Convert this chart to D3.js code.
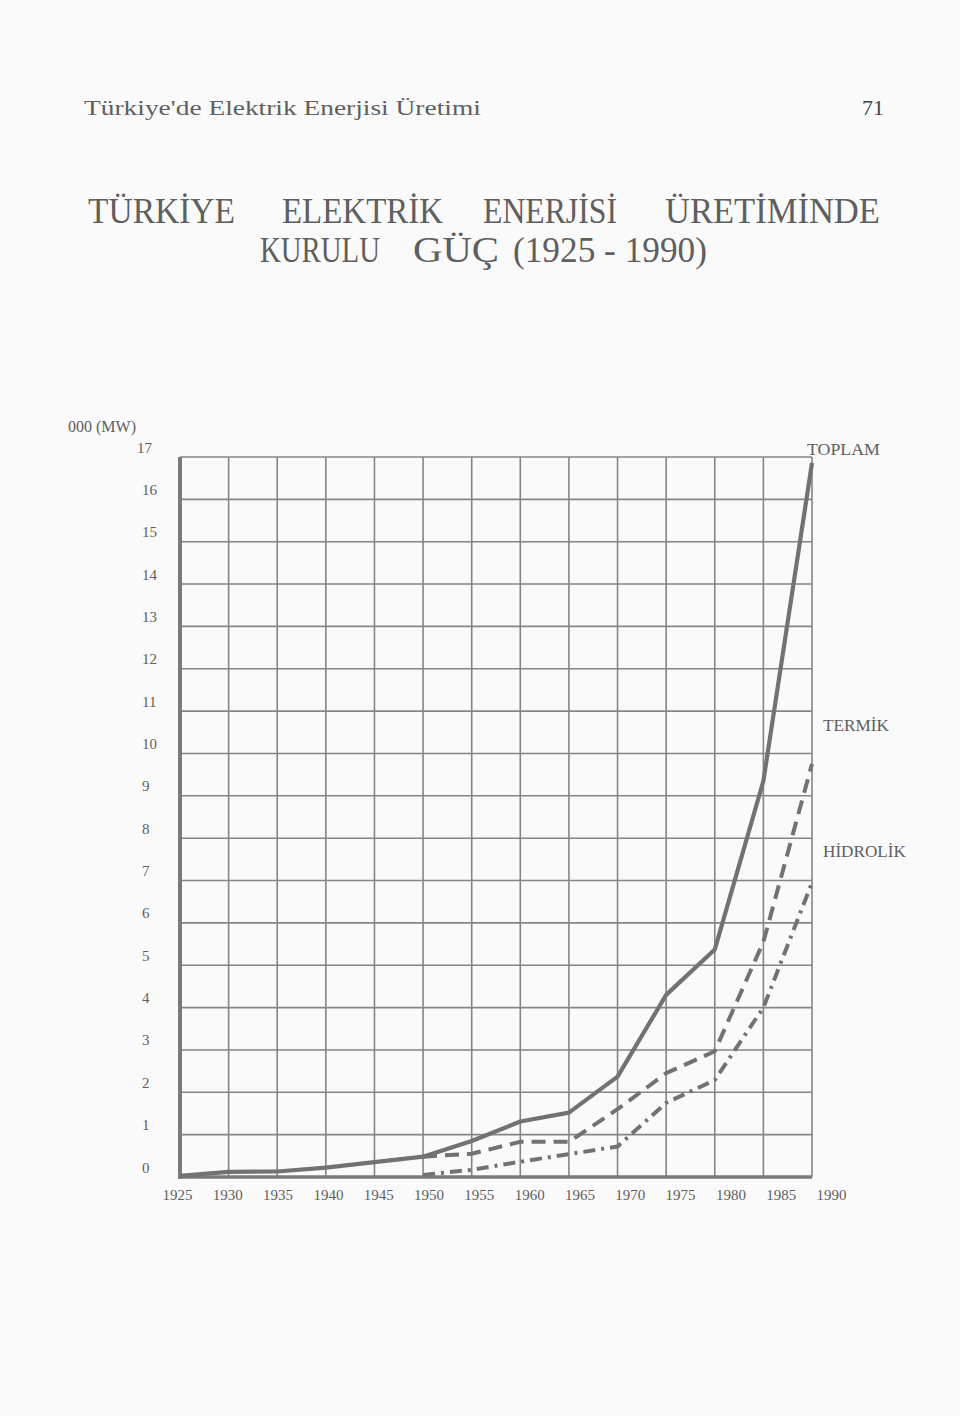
<!DOCTYPE html>
<html>
<head>
<meta charset="utf-8">
<script src="https://cdn.jsdelivr.net/npm/d3@7/dist/d3.min.js"></script>
<style>
  html, body { margin: 0; padding: 0; background: #fafafa; }
  svg { display: block; }
  text { font-family: "Liberation Serif", "Times New Roman", serif; }
</style>
</head>
<body>
<script>
// ---- data (values in thousand MW) ----
const years      = [1925, 1930, 1935, 1940, 1945, 1950, 1955, 1960, 1965, 1970, 1975, 1980, 1985, 1990];
const toplam     = [0.03, 0.12, 0.13, 0.22, 0.35, 0.48, 0.85, 1.31, 1.52, 2.37, 4.30, 5.37, 9.35, 16.86];
const termikYears   = [1950, 1955, 1960, 1965, 1970, 1975, 1980, 1985, 1990];
const termik        = [0.48, 0.55, 0.83, 0.83, 1.60, 2.45, 2.97, 5.55, 9.75];
const hidrolikYears = [1950, 1955, 1960, 1965, 1970, 1975, 1980, 1985, 1990];
const hidrolik      = [0.05, 0.17, 0.36, 0.54, 0.72, 1.75, 2.29, 4.00, 6.95];
const yTicks = [0, 1, 2, 3, 4, 5, 6, 7, 8, 9, 10, 11, 12, 13, 14, 15, 16, 17];
const xTickLabels = years.map(String);
const seriesNames = ["TOPLAM", "TERMİK", "HİDROLİK"];
const headerText = "Türkiye'de Elektrik Enerjisi Üretimi";
const pageNumber = "71";
const titleLine1 = ["TÜRKİYE", "ELEKTRİK", "ENERJİSİ", "ÜRETİMİNDE"];
const titleLine2 = ["KURULU", "GÜÇ", "(1925 - 1990)"];
const yUnit = "000 (MW)";

const W = 960, H = 1416;
const svg = d3.select("body").append("svg").attr("width", W).attr("height", H);
svg.append("rect").attr("width", W).attr("height", H).attr("fill", "#fafafa");

const ink = "#5f5f5f";
const gridCol = "#858585";
const lineCol = "#727272";

// place text so that it spans [x, x+width] by horizontal scaling
function fitText(str, x, yb, width, size, fill) {
  const t = svg.append("text").attr("font-size", size).attr("fill", fill).text(str);
  const nat = t.node().getComputedTextLength();
  const sx = width / nat;
  t.attr("transform", `translate(${x},${yb}) scale(${sx},1)`);
  return t;
}

// header
fitText(headerText, 84, 115, 397, 20, ink);
fitText(pageNumber, 862, 115, 22, 21, "#444");

// title (justified words, condensed)
const t1pos = [[88, 147], [282, 161], [483, 134], [665, 215]];
titleLine1.forEach((w, i) => fitText(w, t1pos[i][0], 223, t1pos[i][1], 36, ink));
const t2pos = [[260, 120], [413, 86], [513, 194]];
titleLine2.forEach((w, i) => fitText(w, t2pos[i][0], 262, t2pos[i][1], 36, ink));

// scales
const x = d3.scaleLinear().domain([1925, 1990]).range([180, 812]);
const y = d3.scaleLinear().domain([0, 17]).range([1177, 457]);
const xLab = d3.scaleLinear().domain([1925, 1990]).range([x(1925) - 3, x(1990) + 19]);

// grid
const g = svg.append("g");
g.selectAll("line.v").data(years).enter().append("line")
  .attr("x1", d => x(d)).attr("x2", d => x(d)).attr("y1", y(17)).attr("y2", y(0))
  .attr("stroke", gridCol).attr("stroke-width", 1.6);
g.selectAll("line.h").data(yTicks).enter().append("line")
  .attr("x1", x(1925)).attr("x2", x(1990)).attr("y1", d => y(d)).attr("y2", d => y(d))
  .attr("stroke", gridCol).attr("stroke-width", 1.6);
// heavy axes
g.append("line").attr("x1", x(1925)).attr("x2", x(1925)).attr("y1", y(17)).attr("y2", y(0) + 1.5)
  .attr("stroke", "#7a7a7a").attr("stroke-width", 4);
g.append("line").attr("x1", x(1925) - 2).attr("x2", x(1990)).attr("y1", y(0)).attr("y2", y(0))
  .attr("stroke", "#7a7a7a").attr("stroke-width", 3.5);

// y axis labels
const yAx = svg.append("g").attr("transform", "translate(142,-5)")
  .call(d3.axisLeft(y).tickValues(yTicks).tickSize(0).tickFormat(d3.format("d")));
yAx.select(".domain").remove();
yAx.selectAll("text").attr("text-anchor", "start").attr("x", d => d === 17 ? -5 : 0).attr("dy", 0)
  .attr("font-size", 15).attr("fill", ink).attr("font-family", "Liberation Serif");
svg.append("text").attr("x", 68).attr("y", 432).attr("font-size", 16).attr("fill", ink).text(yUnit);

// x axis labels
const xAx = svg.append("g").attr("transform", "translate(0,1197)")
  .call(d3.axisBottom(xLab).tickValues(years).tickSize(0).tickFormat((d, i) => xTickLabels[i]));
xAx.select(".domain").remove();
xAx.selectAll("text").attr("dy", 0).attr("font-size", 15).attr("fill", ink)
  .attr("font-family", "Liberation Serif");

// series
const line = d3.line().x(d => x(d[0])).y(d => y(d[1]));
svg.append("path").datum(years.map((yr, i) => [yr, toplam[i]]))
  .attr("d", line).attr("fill", "none").attr("stroke", lineCol).attr("stroke-width", 4.2)
  .attr("stroke-linejoin", "round");
svg.append("path").datum(termikYears.map((yr, i) => [yr, termik[i]]))
  .attr("d", line).attr("fill", "none").attr("stroke", lineCol).attr("stroke-width", 4)
  .attr("stroke-dasharray", "14,8");
svg.append("path").datum(hidrolikYears.map((yr, i) => [yr, hidrolik[i]]))
  .attr("d", line).attr("fill", "none").attr("stroke", lineCol).attr("stroke-width", 4)
  .attr("stroke-dasharray", "12,6,3,6");

// series labels
const labPos = [[807, 455, 73], [823, 731, 66], [823, 857, 83]];
seriesNames.forEach((n, i) => fitText(n, labPos[i][0], labPos[i][1], labPos[i][2], 17, ink));
</script>
</body>
</html>
